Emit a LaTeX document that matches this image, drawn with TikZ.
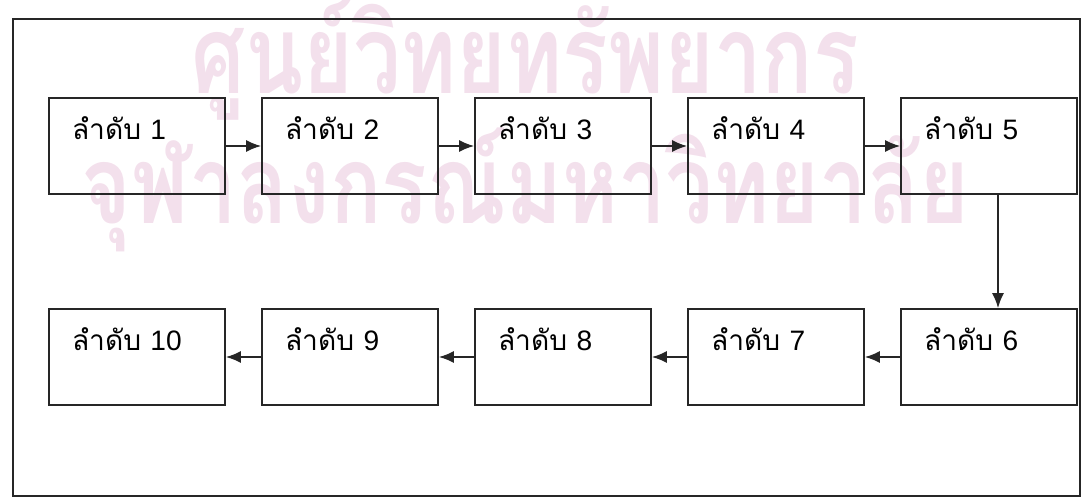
\documentclass[tikz,border=0pt]{standalone}
\usepackage{fontspec}
\setmainfont{Liberation Sans}
\newfontfamily\thaifont[Script=Thai]{Loma}
\usetikzlibrary{arrows.meta}
\definecolor{wmpink}{RGB}{243,224,236}
\newcommand{\seqlabel}[1]{{\thaifont ลำดับ} #1}

\begin{document}
\begin{tikzpicture}[
    seqbox/.style={rectangle, draw=black!85, line width=1pt, minimum width=3.52cm, minimum height=1.92cm, inner xsep=0.46cm, inner ysep=0pt, text width=2.6cm, align=left, text height=0.31cm, text depth=0.59cm, font=\fontsize{16}{18}\selectfont},
    wmark/.style={anchor=base, text=wmpink, xscale=0.78, transform shape, font=\thaifont\bfseries\fontsize{62}{62}\selectfont},
    arrow/.style={-{Latex[length=3mm, width=2.4mm]}, line width=0.9pt, black!85}
]
    \useasboundingbox (0,0) rectangle (21.66,10.06);

    % Watermark of the scan
    \node[wmark] (wm1) at (10.5,8.2) {ศูนย์วิทยทรัพยากร};
    \node[wmark] (wm2) at (10.5,5.6) {จุฬาลงกรณ์มหาวิทยาลัย};

    % Outer frame
    \draw[line width=0.9pt, black!85] (0.26,0.14) rectangle (21.6,9.68);

    % Top row
    \node[seqbox] (s1) at (2.74,7.14)  {\seqlabel{1}};
    \node[seqbox] (s2) at (7.00,7.14)  {\seqlabel{2}};
    \node[seqbox] (s3) at (11.26,7.14) {\seqlabel{3}};
    \node[seqbox] (s4) at (15.52,7.14) {\seqlabel{4}};
    \node[seqbox] (s5) at (19.78,7.14) {\seqlabel{5}};

    % Bottom row
    \node[seqbox] (s6)  at (19.78,2.92) {\seqlabel{6}};
    \node[seqbox] (s7)  at (15.52,2.92) {\seqlabel{7}};
    \node[seqbox] (s8)  at (11.26,2.92) {\seqlabel{8}};
    \node[seqbox] (s9)  at (7.00,2.92)  {\seqlabel{9}};
    \node[seqbox] (s10) at (2.74,2.92)  {\seqlabel{10}};

    % Arrows
    \draw[arrow] (s1.east) -- (s2.west);
    \draw[arrow] (s2.east) -- (s3.west);
    \draw[arrow] (s3.east) -- (s4.west);
    \draw[arrow] (s4.east) -- (s5.west);
    \draw[arrow] ([xshift=0.18cm]s5.south) -- ([xshift=0.18cm]s6.north);
    \draw[arrow] (s6.west) -- (s7.east);
    \draw[arrow] (s7.west) -- (s8.east);
    \draw[arrow] (s8.west) -- (s9.east);
    \draw[arrow] (s9.west) -- (s10.east);

\end{tikzpicture}
\end{document}
